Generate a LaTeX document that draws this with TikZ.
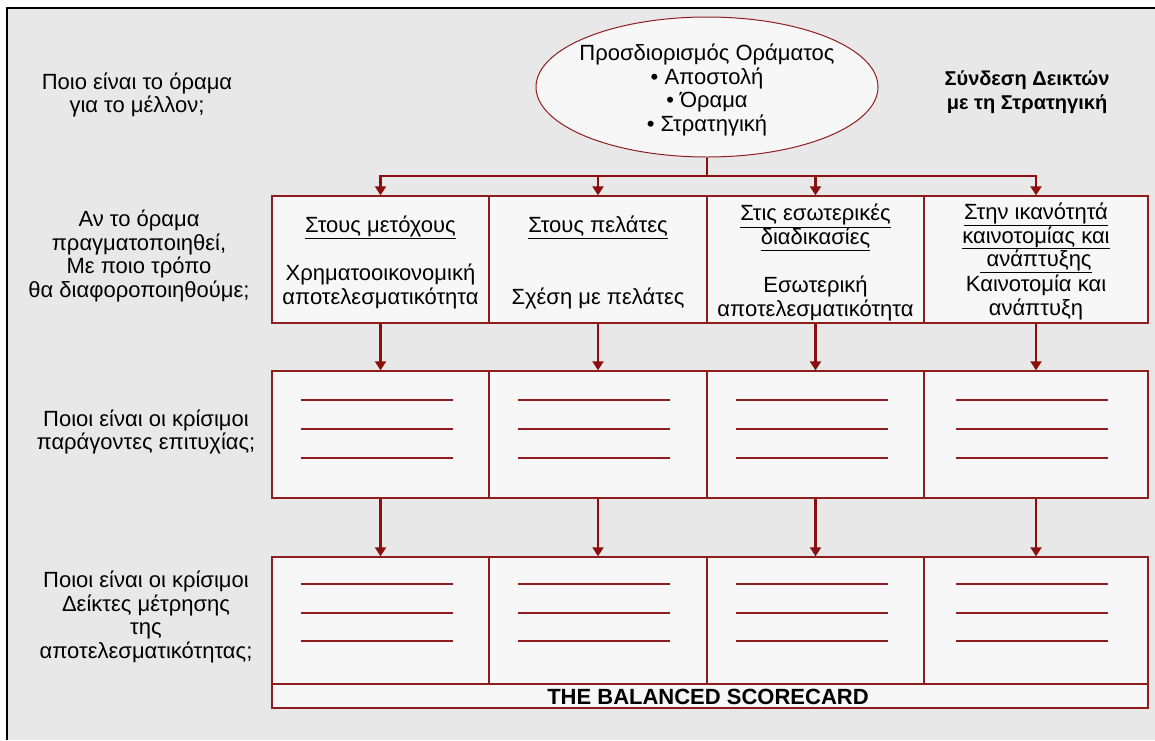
\documentclass[tikz,border=0pt]{standalone}
\usepackage{fontspec}
\setmainfont{Liberation Sans}
\usetikzlibrary{shapes.geometric,arrows.meta}

\definecolor{pagebg}{HTML}{E8E8E8}
\definecolor{cellfill}{HTML}{F7F7F7}
\definecolor{wine}{HTML}{8E1E1E}
\definecolor{arrowred}{HTML}{8B0F0F}

% underline with a fixed depth, so every heading line is ruled at the same height
\newcommand{\ulhead}[1]{\underline{#1\vphantom{μ}}}

\tikzset{
  cell/.style={draw=wine, line width=1.4pt, fill=cellfill, inner sep=0pt, minimum height=127pt},
  band/.style={draw=wine, line width=1.4pt, fill=cellfill, inner sep=0pt},
  vision/.style={ellipse, draw=wine, line width=1pt, fill=cellfill, inner sep=0pt,
                 minimum width=342pt, minimum height=140pt},
  txt/.style={align=center, inner sep=0pt, text=black,
              font=\fontsize{22pt}{23.5pt}\selectfont},
  boldtxt/.style={txt, font=\fontsize{22pt}{23.5pt}\selectfont\bfseries},
  captxt/.style={txt, font=\fontsize{20pt}{24pt}\selectfont\bfseries},
  link/.style={draw=arrowred, line width=2.4pt},
  linkarrow/.style={link, -{Triangle[width=11pt,length=9pt]}},
  placeholder/.style={draw=wine, line width=1.8pt}
}

\begin{document}
\begin{tikzpicture}[x=1pt, y=-1pt]
\useasboundingbox (0,0) rectangle (1155,740);
\fill[white] (0,0) rectangle (1155,740);
\fill[pagebg] (7,8) rectangle (1155,740);
\draw[black, line width=2pt] (7,740) -- (7,8) -- (1155,8);

% question column on the left
\node[txt] (qvision) at (137,95) {Ποιο είναι το όραμα\\για το μέλλον;};
\node[txt] (qdiff) at (139,256) {Αν το όραμα\\πραγματοποιηθεί,\\Με ποιο τρόπο\\θα διαφοροποιηθούμε;};
\node[txt] (qcsf) at (146,432) {Ποιοι είναι οι κρίσιμοι\\παράγοντες επιτυχίας;};
\node[txt] (qkpi) at (146,617) {Ποιοι είναι οι κρίσιμοι\\Δείκτες μέτρησης\\της\\αποτελεσματικότητας;};

% vision ellipse and the strategy link caption
\node[vision] (vis) at (707,87) {};
\node[txt] (vistext) at (707,90) {Προσδιορισμός Οράματος\\• Αποστολή\\• Όραμα\\• Στρατηγική};
\node[captxt] (linkcap) at (1027,92) {Σύνδεση Δεικτών\\με τη Στρατηγική};

% the four perspective columns
\foreach \i/\cx/\w in {1/380.5/217, 2/598/218, 3/815.5/217, 4/1036/224} {
  \node[cell, minimum width=\w pt] (h\i) at (\cx,259.5) {};
  \node[cell, minimum width=\w pt] (c\i) at (\cx,434.5) {};
  \node[cell, minimum width=\w pt] (k\i) at (\cx,620.5) {};
  \foreach \dy in {30,59,88} {
    \draw[placeholder] ([xshift=-80pt, yshift=-\dy pt]c\i.north) -- ++(152,0);
  }
  \foreach \dy in {28,57,85} {
    \draw[placeholder] ([xshift=-80pt, yshift=-\dy pt]k\i.north) -- ++(152,0);
  }
}
\node[band, minimum width=876pt, minimum height=24pt] (scorecard) at (710,696) {};
\node[boldtxt] (sctext) at (708,697) {THE BALANCED SCORECARD};

% headings and contents of the perspective cells
\node[txt] (h1head) at (380.5,227) {\ulhead{Στους μετόχους}};
\node[txt] (h1body) at (380.5,286.5) {Χρηματοοικονομική\\αποτελεσματικότητα};
\node[txt] (h2head) at (598,227) {\ulhead{Στους πελάτες}};
\node[txt] (h2body) at (598,298) {Σχέση με πελάτες};
\node[txt] (h3head) at (815.5,227.5) {\ulhead{Στις εσωτερικές}\\\ulhead{διαδικασίες}};
\node[txt] (h3body) at (815.5,298.5) {Εσωτερική\\αποτελεσματικότητα};
\node[txt] (h4head) at (1036,238) {\ulhead{Στην ικανότητά}\\\ulhead{καινοτομίας και}\\\ulhead{ ανάπτυξης}};
\node[txt] (h4body) at (1036,297.5) {Καινοτομία και\\ανάπτυξη};

% connectors
\coordinate (hub) at (707,176);
\draw[link] (vis.south) -- (hub);
\foreach \i in {1,...,4} {
  \draw[linkarrow] (hub) -| (h\i.north);
  \draw[linkarrow] (h\i.south) -- (c\i.north);
  \draw[linkarrow] (c\i.south) -- (k\i.north);
}
\end{tikzpicture}
\end{document}
